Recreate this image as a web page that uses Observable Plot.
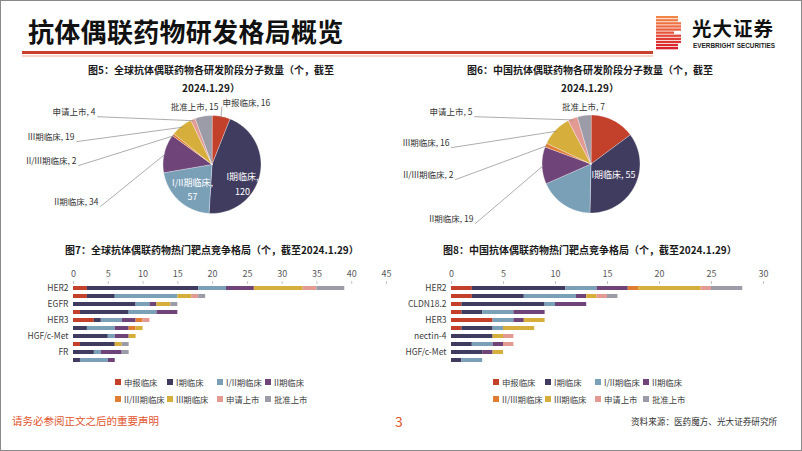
<!DOCTYPE html>
<html><head><meta charset="utf-8">
<script src="https://cdn.jsdelivr.net/npm/d3@7"></script>
<script src="https://cdn.jsdelivr.net/npm/@observablehq/plot@0.6"></script>
<style>
body{margin:0;background:#fff;font-family:"Noto Sans CJK SC","Noto Sans",sans-serif;}
#slide{position:relative;width:802px;height:451px;overflow:hidden;background:#fff;box-shadow:inset 0 0 0 1px #8a8a8a}
.abs{position:absolute}
.ctitle{position:absolute;font-size:10px;font-weight:bold;color:#1a1a1a;white-space:nowrap;line-height:18px}
.legend .item{position:absolute;white-space:nowrap;font-size:8.4px;color:#404040;height:12px;line-height:12px;display:flex;align-items:center}
.legend .sw{width:6px;height:6px;margin-right:3px;display:inline-block}
</style></head>
<body><div id="slide"></div>
<script>
// ---------- data ----------
const stages = ["申报临床","I期临床","I/II期临床","II期临床","II/III期临床","III期临床","申请上市","批准上市"];
const stageColors = ["#c3402b","#3f3c60","#7aa0b8","#6f4478","#e07d35","#d6ae3c","#e39a92","#9c9ba8"];

const globalStageCounts = [16,120,57,34,2,19,4,15];
const chinaStageCounts  = [23,55,28,19,2,16,5,7];

const globalTargets = ["HER2","TROP2","EGFR","B7-H3","HER3","CLDN18.2","HGF/c-Met","Nectin-4","FR","TF"];
const globalTargetLabels = ["HER2","EGFR","HER3","HGF/c-Met","FR"];
const globalTargetCounts = [
  [2,16,4,4,0,7,2,4],
  [2,4,9,0,0,2,1,1],
  [0,9,2,1,0,2,0,1],
  [1,7,4,3,0,0,0,0],
  [3,1,3,2,1,0,1,0],
  [0,2,4,2,1,1,0,0],
  [0,5,1,2,0,1,0,0],
  [1,5,0,0,0,1,0,1],
  [0,3,1,3,0,0,0,1],
  [0,1,4,1,0,0,0,0]
];
const globalTicks = [0,5,10,15,20,25,30,35,40,45];

const chinaTargets = ["HER2","TROP2","CLDN18.2","EGFR","HER3","B7-H3","nectin-4","FRα","HGF/c-Met","TF"];
const chinaTargetLabels = ["HER2","CLDN18.2","HER3","nectin-4","HGF/c-Met"];
const chinaTargetCounts = [
  [2,9,3,3,1,6,1,3],
  [2,5,5,1,0,1,1,1],
  [1,8,1,3,0,0,0,0],
  [1,2,3,3,0,0,0,0],
  [4,0,2,1,0,2,0,0],
  [1,3,1,0,0,3,0,0],
  [0,4,0,0,0,1,1,0],
  [0,2,2,1,0,0,1,0],
  [0,3,0,1,0,1,0,0],
  [0,1,2,0,0,0,0,0]
];
const chinaTicks = [0,5,10,15,20,25,30];

// ---------- layout (not data) ----------
const FONT = '"Noto Sans CJK SC","Noto Sans",sans-serif';
const slide = document.getElementById("slide");

function add(html){ slide.insertAdjacentHTML("beforeend", html); }

// header
add(`<div class="abs" style="left:28px;top:15px;font-size:26px;font-weight:bold;color:#111;line-height:32px;letter-spacing:0.3px">抗体偶联药物研发格局概览</div>`);
add(`<div class="abs" style="left:22px;top:51px;width:631px;height:3px;background:#c8412c"></div>`);
add(`<div class="abs" style="left:22px;top:55px;width:631px;height:2px;background:#f8d6c8"></div>`);
// logo
(function(){
  let bars = "";
  const n = 11;
  for (let i=0;i<n;i++){
    const y = i*3.1;
    const t = i/(n-1);
    const c = d3.interpolateRgb("#f3874a","#d8202c")(t);
    const w = (i===5) ? 18 : (i<2||i>8 ? 22 : 25);
    bars += `<rect x="0" y="${y.toFixed(1)}" width="${w}" height="2.3" fill="${c}"/>`;
  }
  add(`<svg class="abs" style="left:656px;top:16px" width="26" height="35">${bars}</svg>`);
})();
add(`<div class="abs" style="left:692px;top:16px;font-size:19.5px;font-weight:bold;color:#111;line-height:24px;letter-spacing:1px">光大证券</div>`);
add(`<div class="abs" style="left:693px;top:42px;font-size:6.4px;font-weight:bold;color:#222;line-height:8px;font-family:'Liberation Sans',sans-serif">EVERBRIGHT SECURITIES</div>`);

// footer
add(`<div class="abs" style="left:12px;top:413px;font-size:10.5px;color:#e0542c;line-height:16px">请务必参阅正文之后的重要声明</div>`);
add(`<div class="abs" style="left:395px;top:412px;font-size:14px;color:#e0542c;line-height:18px">3</div>`);
add(`<div class="abs" style="left:631px;top:414px;font-size:8.6px;color:#333;line-height:14px">资料来源：医药魔方、光大证券研究所</div>`);

// ---------- pies ----------
function pieFeatures(counts){
  const arcs = d3.pie().sort(null).value(d => d)(counts);
  return arcs.map((a,i) => {
    const n = Math.max(3, Math.ceil((a.endAngle - a.startAngle)/0.02));
    const ring = [[0,0]];
    for (let k=0;k<=n;k++){
      const t = a.startAngle + (a.endAngle - a.startAngle)*k/n;
      ring.push([Math.sin(t), -Math.cos(t)]);
    }
    ring.push([0,0]);
    return {type:"Feature",
      properties:{stage: stages[i], value: counts[i], mid:(a.startAngle+a.endAngle)/2},
      geometry:{type:"Polygon", coordinates:[ring]}};
  });
}

function pieChart(counts, labelLayout, box){
  const feats = pieFeatures(counts);
  const byStage = new Map(feats.map(f => [f.properties.stage, f.properties]));
  const labels = labelLayout.map(l => {
    const p = byStage.get(l.stage);
    const text = l.wrap ? `${l.stage},\n${p.value}` : `${l.stage}, ${p.value}`;
    return {...l, text, x: l.dx, y: l.dy};
  });
  const leaders = labels.filter(l => l.leader).map(l => {
    const p = byStage.get(l.stage);
    const sx = l.anchor === "end" ? l.dx + 0.035 : l.dx - 0.01;
    const sy = l.anchor === "end" ? l.dy + 0.085 : l.dy + 0.06;
    return {x1: sx, y1: sy, x2: 0.97*Math.sin(p.mid), y2: -0.97*Math.cos(p.mid)};
  });
  const {w, h, cx, cy, r} = box;
  const domain = {type:"MultiPoint", coordinates:[[-cx/r, -cy/r],[(w-cx)/r,(h-cy)/r]]};
  const outside = labels.filter(l => !l.inside);
  return Plot.plot({
    width: w, height: h, margin: 0,
    style: {fontFamily: FONT, background: "transparent", overflow: "visible"},
    projection: {type: "identity", domain},
    color: {domain: stages, range: stageColors},
    marks: [
      Plot.geo(feats, {fill: d => d.properties.stage, stroke: "white", strokeWidth: 0.5, strokeOpacity: 0.7}),
      Plot.link(leaders, {x1:"x1", y1:"y1", x2:"x2", y2:"y2", stroke:"#8a8a8a", strokeWidth:0.7}),
      Plot.text(outside.filter(l => l.anchor==="end"), {x:"x", y:"y", text:"text", textAnchor:"end", fontSize:8.5, fill:"#333"}),
      Plot.text(outside.filter(l => l.anchor==="start"), {x:"x", y:"y", text:"text", textAnchor:"start", fontSize:8.5, fill:"#333"}),
      Plot.text(outside.filter(l => l.anchor==="middle"), {x:"x", y:"y", text:"text", textAnchor:"middle", fontSize:8.5, fill:"#333"}),
      Plot.text(labels.filter(l => l.inside), {x:"x", y:"y", text:"text", textAnchor:"middle", fontSize:9, fill:"white", lineHeight:1.6})
    ]
  });
}

const globalPieLayout = [
  {stage:"申报临床", anchor:"start", dx:0.214, dy:-1.245, leader:true},
  {stage:"I期临床", anchor:"middle", dx:0.622, dy:0.378, inside:true, wrap:true},
  {stage:"I/II期临床", anchor:"middle", dx:-0.398, dy:0.49, inside:true, wrap:true},
  {stage:"II期临床", anchor:"end", dx:-2.316, dy:0.776, leader:true},
  {stage:"II/III期临床", anchor:"end", dx:-2.765, dy:-0.061, leader:true},
  {stage:"III期临床", anchor:"end", dx:-2.806, dy:-0.551, leader:true},
  {stage:"申请上市", anchor:"end", dx:-2.378, dy:-1.061, leader:true},
  {stage:"批准上市", anchor:"middle", dx:-0.357, dy:-1.163}
];
const chinaPieLayout = [
  {stage:"I期临床", anchor:"middle", dx:0.459, dy:0.194, inside:true},
  {stage:"II期临床", anchor:"end", dx:-2.398, dy:1.133, leader:true},
  {stage:"II/III期临床", anchor:"end", dx:-2.806, dy:0.235, leader:true},
  {stage:"III期临床", anchor:"end", dx:-2.888, dy:-0.418, leader:true},
  {stage:"申请上市", anchor:"end", dx:-2.418, dy:-1.051, leader:true},
  {stage:"批准上市", anchor:"middle", dx:-0.153, dy:-1.153}
];

function place(el, left, top){
  const d = document.createElement("div");
  d.className = "abs"; d.style.left = left+"px"; d.style.top = top+"px";
  d.appendChild(el); slide.appendChild(d);
}

place(pieChart(globalStageCounts, globalPieLayout, {w:400, h:135, cx:211.5, cy:69, r:49}), 0, 95);
place(pieChart(chinaStageCounts, chinaPieLayout, {w:400, h:135, cx:190.5, cy:68.5, r:49}), 400, 95);

// ---------- bars ----------
function barChart(targets, counts, tickLabels, ticks, m){
  const data = [];
  targets.forEach((t,i) => stages.forEach((s,j) => {
    if (counts[i][j] > 0) data.push({target:t, stage:s, value:counts[i][j]});
  }));
  return Plot.plot({
    width: 380, height: 110, marginTop: 25, marginBottom: 3, marginLeft: m.left, marginRight: m.right,
    style: {fontFamily: FONT, background: "transparent", color: "#595959", overflow: "visible"},
    x: {domain: [ticks[0], ticks[ticks.length-1]], label: null},
    y: {domain: targets, paddingInner: 0.45, paddingOuter: 0.2, label: null},
    color: {domain: stages, range: stageColors},
    marks: [
      Plot.barX(data, {y:"target", x:"value", fill:"stage", order: stages}),
      Plot.axisX({anchor:"top", ticks, tickSize:3, tickPadding:4, line:true, stroke:"#c4c4c4", fill:"#595959", fontSize:9, label: null}),
      Plot.axisY({ticks: tickLabels, tickSize:0, tickPadding:5, fill:"#404040", fontSize:8.5, label: null})
    ]
  });
}

place(barChart(globalTargets, globalTargetCounts, globalTargetLabels, globalTicks, {left:53, right:14}), 20, 258);
place(barChart(chinaTargets, chinaTargetCounts, chinaTargetLabels, chinaTicks, {left:51, right:17}), 400, 258);

// ---------- titles ----------
add(`<div class="ctitle" style="left:0;width:422px;top:61px;text-align:center">图5：全球抗体偶联药物各研发阶段分子数量（个，截至<br>2024.1.29）</div>`);
add(`<div class="ctitle" style="left:400px;width:380px;top:61px;text-align:center">图6：中国抗体偶联药物各研发阶段分子数量（个，截至<br>2024.1.29）</div>`);
add(`<div class="ctitle" style="left:65px;top:241px">图7：全球抗体偶联药物热门靶点竞争格局（个，截至2024.1.29）</div>`);
add(`<div class="ctitle" style="left:443px;top:241px">图8：中国抗体偶联药物热门靶点竞争格局（个，截至2024.1.29）</div>`);

// ---------- legends ----------
function legend(cols, rows){
  let html = '<div class="legend">';
  stages.forEach((s,i) => {
    const x = cols[i%4], y = rows[Math.floor(i/4)];
    html += `<div class="item" style="left:${x}px;top:${y-6}px"><span class="sw" style="background:${stageColors[i]}"></span>${s}</div>`;
  });
  html += '</div>';
  add(html);
}
legend([115,167,217,265],[382,399]);
legend([493,545,595,643],[382,399]);
</script>
</body></html>
